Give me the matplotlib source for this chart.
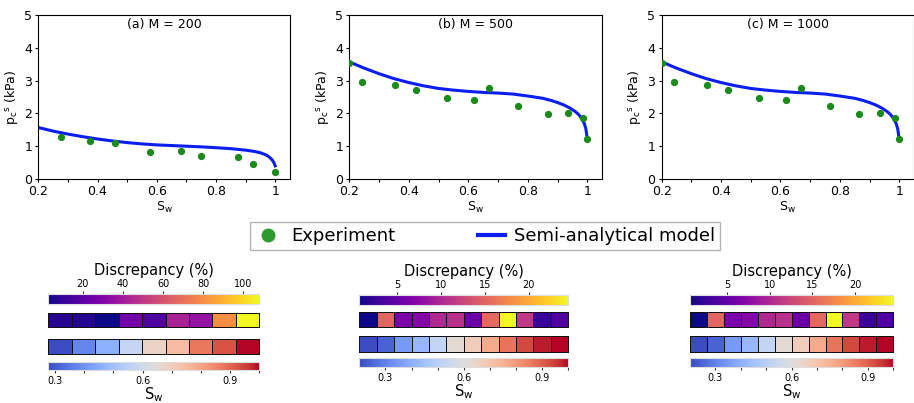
import matplotlib
matplotlib.use("Agg")
import matplotlib.pyplot as plt
import numpy as np
from matplotlib import cm, colors
from matplotlib.lines import Line2D

W, H = 914, 403

# measured capillary pressure points (Sw, kPa)
sw_exp_a = [0.277, 0.374, 0.459, 0.578, 0.683, 0.751, 0.873, 0.926, 1.0]
pc_exp_a = [1.29, 1.16, 1.09, 0.83, 0.86, 0.70, 0.66, 0.47, 0.20]
sw_exp_b = [0.2, 0.243, 0.352, 0.424, 0.527, 0.62, 0.67, 0.766, 0.866, 0.934, 0.984, 1.0]
pc_exp_b = [3.55, 2.96, 2.87, 2.70, 2.48, 2.41, 2.77, 2.23, 1.98, 2.02, 1.86, 1.22]
sw_exp_c = [0.2, 0.243, 0.352, 0.424, 0.527, 0.62, 0.67, 0.766, 0.866, 0.934, 0.984, 1.0]
pc_exp_c = [3.55, 2.96, 2.87, 2.70, 2.48, 2.41, 2.77, 2.23, 1.98, 2.02, 1.86, 1.22]

# semi-analytical model curves
sw_model_a = [0.2, 0.25, 0.3, 0.35, 0.4, 0.45, 0.5, 0.55, 0.6, 0.65, 0.7, 0.75,
              0.8, 0.85, 0.9, 0.93, 0.95, 0.97, 0.98, 0.99, 0.995, 1.0]
pc_model_a = [1.57, 1.46, 1.37, 1.29, 1.22, 1.16, 1.11, 1.07, 1.04, 1.02, 1.00, 0.98,
              0.955, 0.925, 0.88, 0.84, 0.80, 0.73, 0.67, 0.58, 0.51, 0.40]
sw_model_b = [0.2, 0.25, 0.3, 0.35, 0.4, 0.45, 0.5, 0.55, 0.6, 0.65, 0.7, 0.75,
              0.8, 0.85, 0.88, 0.9, 0.92, 0.94, 0.96, 0.97, 0.98, 0.99, 0.995, 1.0]
pc_model_b = [3.57, 3.38, 3.21, 3.06, 2.94, 2.84, 2.76, 2.71, 2.67, 2.64, 2.62, 2.59,
              2.53, 2.46, 2.39, 2.33, 2.26, 2.17, 2.05, 1.97, 1.86, 1.68, 1.52, 1.20]
sw_model_c = sw_model_b
pc_model_c = pc_model_b

# discrepancy between model and experiment at each point (%)
disc_a = [7.0, 6.5, 2.8, 26.0, 16.5, 42.0, 36.0, 80.0, 108.0]
disc_b = [0.65, 15.0, 6.4, 7.0, 10.0, 10.8, 5.4, 15.2, 24.5, 11.4, 2.6, 3.8]
disc_c = [0.65, 15.0, 6.4, 7.0, 10.0, 10.8, 5.4, 15.2, 24.5, 11.4, 2.6, 3.8]

titles = ["(a) M = 200", "(b) M = 500", "(c) M = 1000"]
disc_ticks = [[20, 40, 60, 80, 100], [5, 10, 15, 20], [5, 10, 15, 20]]

plt.rcParams["font.family"] = "DejaVu Sans"
plt.rcParams["mathtext.default"] = "regular"


def px_box(x0, x1, y0, y1):
    # pixel box (top-left origin) -> figure fraction rect
    return [x0 / W, 1 - y1 / H, (x1 - x0) / W, (y1 - y0) / H]


def draw_curve_panel(ax, sw_model, pc_model, sw_exp, pc_exp, title):
    ax.plot(sw_model, pc_model, color="#0a1ef0", lw=2.2, zorder=2)
    ax.plot(sw_exp, pc_exp, "o", color="#1a8a1a", ms=4.2, zorder=3)
    ax.set_xlim(0.2, 1.05)
    ax.set_ylim(0, 5)
    ax.set_xticks([0.2, 0.4, 0.6, 0.8, 1.0])
    ax.set_xticklabels(["0.2", "0.4", "0.6", "0.8", "1"])
    ax.set_xticks([0.3, 0.5, 0.7, 0.9], minor=True)
    ax.set_yticks([0, 1, 2, 3, 4, 5])
    ax.tick_params(which="both", direction="out", length=2.5, width=0.8, labelsize=9, pad=2)
    for sp in ax.spines.values():
        sp.set_linewidth(0.8)
    ax.set_xlabel(r"$S_w$", fontsize=9, labelpad=1)
    ax.set_ylabel(r"${p_c}^s$ (kPa)", fontsize=9, labelpad=3)
    ax.text(0.5, 0.94, title, transform=ax.transAxes, ha="center", va="center", fontsize=9)


def draw_cells(ax, vals, cmap, norm):
    n = len(vals)
    mesh = ax.pcolormesh(np.arange(n + 1), [0, 1], np.array(vals)[None, :],
                         cmap=cmap, norm=norm, edgecolors="#111111", linewidth=0.6)
    mesh.set_clip_on(False)
    ax.set_xlim(0, n)
    ax.set_ylim(0, 1)
    ax.axis("off")


def draw_discrepancy_block(fig, x0, x1, rows, disc, sw_exp, ticks):
    disc_norm = colors.Normalize(vmin=min(disc), vmax=max(disc))
    sw_norm = colors.Normalize(vmin=min(sw_exp), vmax=max(sw_exp))
    plasma = plt.get_cmap("plasma")
    coolwarm = plt.get_cmap("coolwarm")

    # discrepancy colour scale on top
    cax = fig.add_axes(px_box(x0, x1, *rows[0]))
    cb = fig.colorbar(cm.ScalarMappable(norm=disc_norm, cmap=plasma), cax=cax,
                      orientation="horizontal")
    cb.outline.set_edgecolor("#dddddd")
    cb.outline.set_linewidth(0.8)
    cax.xaxis.set_ticks_position("top")
    cax.set_xticks(ticks)
    cax.tick_params(length=2.5, width=0.8, labelsize=7, pad=1, color="#333333")
    cax.set_title("Discrepancy (%)", fontsize=10.5, pad=3)

    draw_cells(fig.add_axes(px_box(x0, x1, *rows[1])), disc, plasma, disc_norm)
    draw_cells(fig.add_axes(px_box(x0, x1, *rows[2])), sw_exp, coolwarm, sw_norm)

    # saturation colour scale at the bottom
    sax = fig.add_axes(px_box(x0, x1, *rows[3]))
    cb2 = fig.colorbar(cm.ScalarMappable(norm=sw_norm, cmap=coolwarm), cax=sax,
                       orientation="horizontal")
    cb2.outline.set_edgecolor("#dddddd")
    cb2.outline.set_linewidth(0.8)
    sw_ticks = [t / 10 for t in range(3, 11) if min(sw_exp) - 1e-9 <= t / 10 <= max(sw_exp) + 1e-9]
    sax.set_xticks(sw_ticks)
    sax.set_xticklabels(["%.1f" % t if round(t * 10) in (3, 6, 9) else "" for t in sw_ticks])
    sax.tick_params(length=2.5, width=0.8, labelsize=7, pad=2, color="#333333")
    sax.set_xlabel(r"$S_w$", fontsize=10.5, labelpad=-1)


def main():
    fig = plt.figure(figsize=(W / 100, H / 100), dpi=100)

    top_x = [(38.3, 290.0), (349.3, 602.3), (661.7, 914.1)]
    curves = [
        (sw_model_a, pc_model_a, sw_exp_a, pc_exp_a),
        (sw_model_b, pc_model_b, sw_exp_b, pc_exp_b),
        (sw_model_c, pc_model_c, sw_exp_c, pc_exp_c),
    ]
    for (x0, x1), data, title in zip(top_x, curves, titles):
        ax = fig.add_axes(px_box(x0, x1, 15, 179))
        draw_curve_panel(ax, *data, title)

    handles = [
        Line2D([], [], ls="none", marker="o", color="#2e9a2e", ms=9),
        Line2D([], [], color="#0a1ef0", lw=3),
    ]
    leg = fig.legend(handles, ["Experiment", "Semi-analytical model"], loc="center",
                     bbox_to_anchor=(485 / W, 1 - 236 / H), ncol=2, fontsize=13,
                     frameon=True, fancybox=False, edgecolor="#a0a0a0",
                     handlelength=1.5, handletextpad=0.5, columnspacing=4.6,
                     borderpad=0.25, borderaxespad=0)
    leg.get_frame().set_linewidth(1.0)

    bottom_x = [(48.3, 259.3), (359.3, 568.3), (690.0, 893.3)]
    rows_a = [(294.3, 304.3), (312.7, 327.3), (339.0, 353.7), (361.7, 370.0)]
    rows_bc = [(295.0, 305.0), (312.0, 326.7), (336.0, 351.7), (358.0, 367.0)]
    blocks = [
        (rows_a, disc_a, sw_exp_a),
        (rows_bc, disc_b, sw_exp_b),
        (rows_bc, disc_c, sw_exp_c),
    ]
    for (x0, x1), (rows, disc, sw), ticks in zip(bottom_x, blocks, disc_ticks):
        draw_discrepancy_block(fig, x0, x1, rows, disc, sw, ticks)

    fig.savefig("out.png", dpi=100)


if __name__ == "__main__":
    main()
